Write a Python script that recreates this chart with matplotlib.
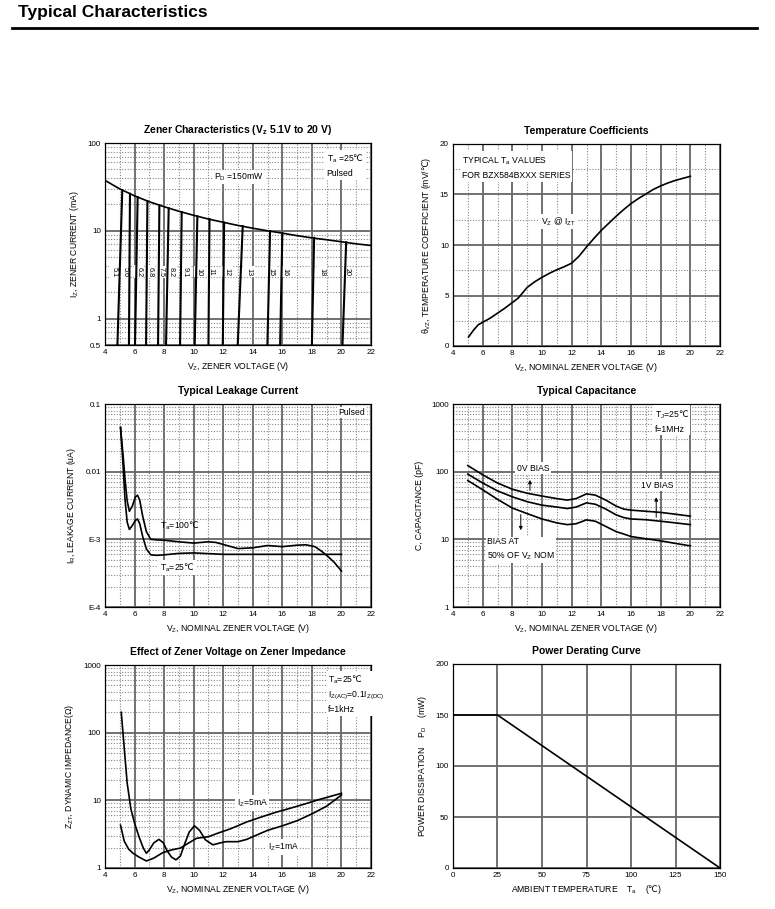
import numpy as np
import matplotlib
matplotlib.use("Agg")
import matplotlib.pyplot as plt
from matplotlib.ticker import MultipleLocator, FixedLocator, NullFormatter, LogLocator

plt.rcParams['font.family'] = ['Liberation Sans', 'DejaVu Sans']
plt.rcParams['mathtext.fontset'] = 'custom'
plt.rcParams['mathtext.rm'] = 'DejaVu Sans'   # only used for the degree-Celsius sign
plt.rcParams['mathtext.default'] = 'regular'

# --- Zener characteristics ---
pd_v = [4, 5, 6, 7, 8, 9, 10, 11, 12, 13, 14, 15, 16, 17, 18, 19, 20, 21, 22]
pd_i = [37.5, 30, 25, 21.4, 18.8, 16.7, 15, 13.6, 12.5, 11.5, 10.7, 10, 9.4, 8.8, 8.3, 7.9, 7.5, 7.1, 6.8]
zener_labels = ['5.1', '5.6', '6.2', '6.8', '7.5', '8.2', '9.1', '10', '11', '12', '13', '15', '16', '18', '20']
zener_v_bottom = [4.84, 5.62, 6.03, 6.78, 7.59, 8.13, 9.08, 10.07, 11.0, 11.97, 12.98, 14.99, 15.85, 18.0, 20.07]
zener_v_top = [5.17, 5.69, 6.21, 6.87, 7.68, 8.31, 9.19, 10.25, 11.07, 12.06, 13.32, 15.17, 16.0, 18.15, 20.32]
zener_i_top = [29, 26.4, 24.2, 21.8, 19.5, 18.0, 16.3, 14.6, 13.6, 12.4, 11.3, 9.9, 9.4, 8.3, 7.4]
zener_label_x = [4.61, 5.35, 6.3, 7.04, 7.79, 8.47, 9.41, 10.36, 11.17, 12.25, 13.74, 15.23, 16.18, 18.68, 20.37]

# --- Temperature coefficients ---
tc_v = [5.05, 5.4, 5.7, 6.0, 6.5, 7.0, 7.5, 8.0, 8.4, 9.0, 9.5, 10.0, 10.5, 11.0, 11.5, 12.0, 12.5, 13.0,
        13.5, 14.0, 14.5, 15.0, 15.5, 16.0, 16.5, 17.0, 17.5, 18.0, 18.5, 19.0, 19.5, 20.0]
tc_val = [0.9, 1.6, 2.1, 2.35, 2.75, 3.25, 3.75, 4.3, 4.75, 5.8, 6.35, 6.8, 7.2, 7.55, 7.85, 8.2, 8.9, 9.8,
          10.65, 11.45, 12.15, 12.85, 13.5, 14.1, 14.6, 15.05, 15.5, 15.85, 16.15, 16.4, 16.6, 16.8]

# --- Leakage current ---
lk_v_100 = [5.05, 5.2, 5.35, 5.5, 5.65, 5.85, 6.05, 6.2, 6.35, 6.55, 6.8, 7.1, 7.5, 8, 9, 10, 11, 11.5, 12,
            13, 14, 15, 16, 17, 17.6, 18.2, 18.6, 19, 19.5, 20]
lk_i_100 = [0.045, 0.02, 0.008, 0.0037, 0.0026, 0.0031, 0.0042, 0.0045, 0.0038, 0.0022, 0.0013, 0.001,
            0.00098, 0.00097, 0.00092, 0.00088, 0.00092, 0.0009, 0.00084, 0.00073, 0.00075, 0.00081,
            0.00078, 0.00082, 0.00083, 0.00078, 0.00068, 0.00058, 0.00046, 0.00034]
lk_v_25 = [5.05, 5.2, 5.35, 5.5, 5.65, 5.85, 6.05, 6.2, 6.35, 6.55, 6.8, 7.1, 7.5, 8, 9, 10, 12, 14, 16, 18, 20]
lk_i_25 = [0.045, 0.015, 0.004, 0.0018, 0.0014, 0.0016, 0.0019, 0.002, 0.0017, 0.0011, 0.00072, 0.00059,
           0.00058, 0.00059, 0.00062, 0.00063, 0.0006, 0.0006, 0.0006, 0.0006, 0.0006]

# --- Capacitance ---
cap_v = [5, 6, 7, 8, 9, 10, 11, 11.7, 12.3, 13, 13.6, 14.3, 15, 15.5, 16, 17, 18, 19, 20]
cap_0v = [123, 90, 68, 55, 48, 43.6, 40, 38, 40, 47, 45, 38, 31, 28, 27, 26, 25, 23.5, 22]
cap_1v = [92, 68, 52, 42.5, 36, 32, 30, 28.5, 30, 34.6, 33, 28, 23, 21, 20, 19.5, 18.5, 17.5, 16.5]
cap_50 = [74, 54, 39, 29, 24, 20, 17.5, 16.5, 17, 19.4, 18.5, 15.5, 13, 12, 11, 10.2, 9.5, 8.7, 8.0]

# --- Zener impedance ---
zz_v_1ma = [5.1, 5.3, 5.5, 5.75, 6.0, 6.3, 6.6, 6.8, 7.0, 7.3, 7.65, 7.95, 8.2, 8.5, 8.8, 9.1, 9.4, 9.7,
            10.05, 10.4, 10.8, 11.3, 11.8, 12.2, 13, 13.6, 14, 15, 16, 17, 18, 19, 20]
zz_1ma = [200, 60, 18, 7.5, 4.6, 2.9, 1.95, 1.65, 1.85, 2.35, 2.65, 2.35, 1.8, 1.45, 1.32, 1.5, 2.3, 3.4,
          4.2, 3.6, 2.6, 2.2, 2.35, 2.45, 2.45, 2.65, 2.9, 3.6, 4.2, 5.0, 6.3, 8.2, 12]
zz_v_5ma = [5.05, 5.3, 5.6, 5.9, 6.3, 6.8, 7.3, 7.9, 8.5, 9.1, 9.6, 10.2, 11.0, 11.6, 12.5, 13.6, 14.5,
            15.5, 16.5, 17.5, 18.5, 19.3, 20.0]
zz_5ma = [4.3, 2.5, 1.9, 1.65, 1.45, 1.27, 1.4, 1.68, 1.85, 1.97, 2.3, 2.75, 2.9, 3.25, 3.8, 4.8, 5.6,
          6.6, 7.6, 8.8, 10.3, 11.5, 12.7]

# --- Power derating ---
der_t = [0, 25, 150]
der_p = [150, 150, 0]

GRID_MAJ = dict(color='#666666', lw=1.3, ls='-')
GRID_MIN = dict(color='#888888', lw=0.8, ls=(0, (1, 1.5)))
TXT = 6.2
LW = 1.2
WHITE = dict(facecolor='white', edgecolor='none', pad=1.0)
DEGC = '$\\mathrm{\u2103}$'

fig = plt.figure(figsize=(7.75, 9.09), dpi=100)
fig.text(18 / 775, 1 - 12 / 909, 'Typical Characteristics', fontsize=12.5, fontweight='bold',
         va='center', ha='left')
fig.add_artist(plt.Line2D([12 / 775, 757 / 775], [1 - 28 / 909, 1 - 28 / 909], color='black', lw=2))


def make_ax(x0, y0, x1, y1):
    return fig.add_axes([x0 / 775, 1 - y1 / 909, (x1 - x0) / 775, (y1 - y0) / 909])


def style(ax, title):
    ax.set_title(title, fontsize=7.5, fontweight='bold', pad=7)
    ax.tick_params(which='both', length=0, labelsize=5.8, pad=3)
    ax.set_axisbelow(True)
    for s in ax.spines.values():
        s.set_linewidth(0.9)
    ax.grid(which='major', **GRID_MAJ)
    ax.grid(which='minor', **GRID_MIN)


def vz_axis(ax, label):
    ax.set_xlim(4, 22)
    ax.xaxis.set_major_locator(MultipleLocator(2))
    ax.xaxis.set_minor_locator(MultipleLocator(1))
    ax.set_xlabel(label, fontsize=TXT, labelpad=3)


def log_axis(ax, lo, hi, ticks, labels):
    ax.set_yscale('log')
    ax.set_ylim(lo, hi)
    ax.yaxis.set_major_locator(FixedLocator(ticks))
    ax.yaxis.set_minor_locator(LogLocator(base=10, subs=np.arange(2, 10)))
    ax.yaxis.set_minor_formatter(NullFormatter())
    ax.set_yticklabels(labels)


# Zener characteristics
ax1 = make_ax(105, 143, 371, 345)
style(ax1, 'Zener Characteristics (V$_z$ 5.1V to 20 V)')
vz_axis(ax1, 'V$_Z$, ZENER VOLTAGE (V)')
log_axis(ax1, 0.5, 100, [0.5, 1, 10, 100], ['0.5', '1', '10', '100'])
ax1.set_ylabel('I$_Z$, ZENER CURRENT (mA)', fontsize=TXT, labelpad=5)
ax1.plot(pd_v, pd_i, color='black', lw=LW, zorder=3)
for lab, vb, vt, it, lx in zip(zener_labels, zener_v_bottom, zener_v_top, zener_i_top, zener_label_x):
    ax1.plot([vb, vt], [0.5, it], color='black', lw=1.5, zorder=3)
    ax1.text(lx, 3.4, lab, rotation=-90, fontsize=5.2, ha='center', va='center', bbox=WHITE, zorder=2.5)
ax1.text(11.4, 41, 'P$_D$ =150mW', fontsize=TXT, ha='left', va='center', bbox=WHITE)
ax1.text(19.0, 78, 'T$_a$ =25' + DEGC + '\nPulsed', fontsize=TXT, ha='left', va='top', linespacing=1.6,
         bbox=WHITE)

# Temperature coefficients
ax2 = make_ax(453, 144, 720, 346)
style(ax2, 'Temperature Coefficients')
vz_axis(ax2, 'V$_Z$, NOMINAL ZENER VOLTAGE (V)')
ax2.set_ylim(0, 20)
ax2.yaxis.set_major_locator(MultipleLocator(5))
ax2.yaxis.set_minor_locator(MultipleLocator(2.5))
ax2.set_ylabel('\u03b8$_{VZ}$, TEMPERATURE COEFFICIENT (mV/' + DEGC + ')', fontsize=TXT, labelpad=5)
ax2.plot(tc_v, tc_val, color='black', lw=LW)
ax2.text(4.6, 19.0, 'TYPICAL T$_a$ VALUES\nFOR BZX584BXXX SERIES', fontsize=TXT, ha='left', va='top',
         linespacing=1.7, bbox=WHITE)
ax2.text(9.9, 12.3, 'V$_Z$ @ I$_{ZT}$', fontsize=TXT, ha='left', va='center', bbox=WHITE)

# Leakage current
ax3 = make_ax(105, 404, 371, 607)
style(ax3, 'Typical Leakage Current')
vz_axis(ax3, 'V$_Z$, NOMINAL ZENER VOLTAGE (V)')
log_axis(ax3, 1e-4, 0.1, [1e-4, 1e-3, 1e-2, 1e-1], ['E-4', 'E-3', '0.01', '0.1'])
ax3.set_ylabel('I$_R$, LEAKAGE CURRENT (uA)', fontsize=TXT, labelpad=5)
ax3.plot(lk_v_100, lk_i_100, color='black', lw=LW)
ax3.plot(lk_v_25, lk_i_25, color='black', lw=LW)
ax3.text(7.7, 0.0016, 'T$_a$=100' + DEGC, fontsize=TXT, ha='left', va='center')
ax3.text(7.7, 0.00038, 'T$_a$=25' + DEGC, fontsize=TXT, ha='left', va='center', bbox=WHITE)
ax3.text(19.8, 0.075, 'Pulsed', fontsize=TXT, ha='left', va='center', bbox=WHITE)

# Capacitance
ax4 = make_ax(453, 404, 720, 607)
style(ax4, 'Typical Capacitance')
vz_axis(ax4, 'V$_Z$, NOMINAL ZENER VOLTAGE (V)')
log_axis(ax4, 1, 1000, [1, 10, 100, 1000], ['1', '10', '100', '1000'])
ax4.set_ylabel('C, CAPACITANCE (pF)', fontsize=TXT, labelpad=5)
for series in (cap_0v, cap_1v, cap_50):
    ax4.plot(cap_v, series, color='black', lw=LW)
ax4.text(8.3, 113, '0V BIAS', fontsize=TXT, ha='left', va='center', bbox=WHITE)
ax4.annotate('', xy=(9.19, 83), xytext=(9.19, 48),
             arrowprops=dict(arrowstyle='-|>', color='black', lw=0.7, mutation_scale=5))
ax4.text(16.7, 63, '1V BIAS', fontsize=TXT, ha='left', va='center', bbox=WHITE)
ax4.annotate('', xy=(17.7, 46), xytext=(17.7, 19.3),
             arrowprops=dict(arrowstyle='-|>', color='black', lw=0.7, mutation_scale=5))
ax4.text(6.3, 7.1, 'BIAS AT\n50% OF V$_Z$ NOM', fontsize=TXT, ha='left', va='center',
         linespacing=1.6, bbox=WHITE)
ax4.annotate('', xy=(8.57, 12.4), xytext=(8.57, 25.5),
             arrowprops=dict(arrowstyle='-|>', color='black', lw=0.7, mutation_scale=5))
ax4.text(17.6, 560, 'T$_J$=25' + DEGC + '\nf=1MHz', fontsize=TXT, ha='left', va='center',
         linespacing=1.6, bbox=WHITE)

# Zener impedance
ax5 = make_ax(105, 665, 371, 868)
style(ax5, 'Effect of Zener Voltage on Zener Impedance')
vz_axis(ax5, 'V$_Z$, NOMINAL ZENER VOLTAGE (V)')
log_axis(ax5, 1, 1000, [1, 10, 100, 1000], ['1', '10', '100', '1000'])
ax5.set_ylabel('Z$_{ZT}$, DYNAMIC IMPEDANCE(\u03a9)', fontsize=TXT, labelpad=5)
ax5.plot(zz_v_1ma, zz_1ma, color='black', lw=LW)
ax5.plot(zz_v_5ma, zz_5ma, color='black', lw=LW)
ax5.text(12.9, 9.1, 'I$_Z$=5mA', fontsize=TXT, ha='left', va='center', bbox=WHITE)
ax5.text(15.0, 2.05, 'I$_Z$=1mA', fontsize=TXT, ha='left', va='center', bbox=WHITE)
ax5.text(19.1, 750, 'T$_a$=25' + DEGC + '\nI$_{Z(AC)}$=0.1I$_{Z(DC)}$\nf=1kHz', fontsize=TXT,
         ha='left', va='top', linespacing=1.5, bbox=WHITE)

# Power derating
ax6 = make_ax(453, 664, 720, 868)
style(ax6, 'Power Derating Curve')
ax6.set_xlim(0, 150)
ax6.set_ylim(0, 200)
ax6.xaxis.set_major_locator(MultipleLocator(25))
ax6.yaxis.set_major_locator(MultipleLocator(50))
ax6.grid(which='minor', visible=False)
ax6.set_ylabel('POWER DISSIPATION    P$_D$    (mW)', fontsize=TXT, labelpad=5)
ax6.set_xlabel('AMBIENT TEMPERATURE    T$_a$    (' + DEGC + ')', fontsize=TXT, labelpad=3)
ax6.plot(der_t, der_p, color='black', lw=LW)

fig.savefig('out.png', dpi=100)
